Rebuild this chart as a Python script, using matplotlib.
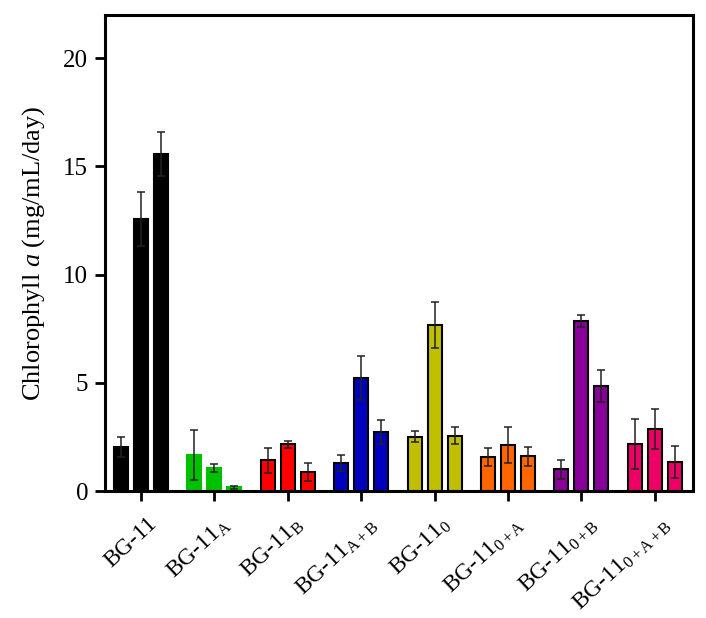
import matplotlib.pyplot as plt
import matplotlib.transforms as mtransforms
import numpy as np

plt.rcParams['font.family'] = ['Liberation Serif', 'DejaVu Serif']
plt.rcParams['mathtext.fontset'] = 'custom'
plt.rcParams['mathtext.rm'] = 'Liberation Serif'
plt.rcParams['mathtext.it'] = 'Liberation Serif:italic'

groups = [r'BG-11', r'BG-11$_{\mathrm{A}}$', r'BG-11$_{\mathrm{B}}$', r'BG-11$_{\mathrm{A+B}}$',
          r'BG-11$_{\mathrm{0}}$', r'BG-11$_{\mathrm{0+A}}$', r'BG-11$_{\mathrm{0+B}}$',
          r'BG-11$_{\mathrm{0+A+B}}$']
bar1 = [2.02, 1.66, 1.42, 1.29, 2.51, 1.57, 1.00, 2.17]
bar2 = [12.58, 1.05, 2.17, 5.22, 7.68, 2.14, 7.87, 2.86]
bar3 = [15.58, 0.17, 0.86, 2.74, 2.56, 1.60, 4.85, 1.33]
err1 = [0.46, 1.17, 0.57, 0.37, 0.26, 0.40, 0.45, 1.17]
err2 = [1.26, 0.18, 0.16, 1.00, 1.06, 0.83, 0.28, 0.91]
err3 = [1.02, 0.08, 0.42, 0.55, 0.38, 0.43, 0.74, 0.75]
colors = ['#000000', '#00C000', '#FF0000', '#0000C0', '#C0C000', '#FF6600', '#880099', '#EE0066']
edges = ['#000000', '#00C000', '#000000', '#000000', '#000000', '#000000', '#000000', '#000000']

fig = plt.figure(figsize=(7.06, 6.18), dpi=100)
ax = fig.add_axes([0.1487, 0.2055, 0.8329, 0.7702])

x = np.arange(len(groups))
offset = 0.272
width = 0.19
for k, (vals, errs) in enumerate([(bar1, err1), (bar2, err2), (bar3, err3)]):
    pos = x + (k - 1) * offset
    ax.bar(pos, vals, width, color=colors, edgecolor=edges, linewidth=1.5, zorder=2)
    ax.errorbar(pos, vals, yerr=errs, fmt='none', ecolor='#222222', elinewidth=1.1,
                capsize=2.7, capthick=1.1, zorder=3)

ax.set_xlim(-0.49, 7.52)
ax.set_ylim(0, 22)
ax.set_yticks([0, 5, 10, 15, 20])
ax.set_xticks(x)
ax.set_xticklabels(groups, rotation=43, ha='right', rotation_mode='anchor', fontsize=17)
ax.tick_params(axis='both', direction='out', length=7, width=2, color='black')
ax.tick_params(axis='y', pad=5, labelsize=18)
ax.tick_params(axis='x', pad=9)
# nudge the rotated labels a little to the right, like the reference
shift = mtransforms.ScaledTranslation(4 / 72, 0, fig.dpi_scale_trans)
for lab in ax.get_xticklabels():
    lab.set_transform(lab.get_transform() + shift)
for s in ax.spines.values():
    s.set_linewidth(2.2)
ax.set_ylabel(r'Chlorophyll $\mathit{a}$ (mg/mL/day)', fontsize=19, labelpad=12)

fig.savefig('out.png', dpi=100)
